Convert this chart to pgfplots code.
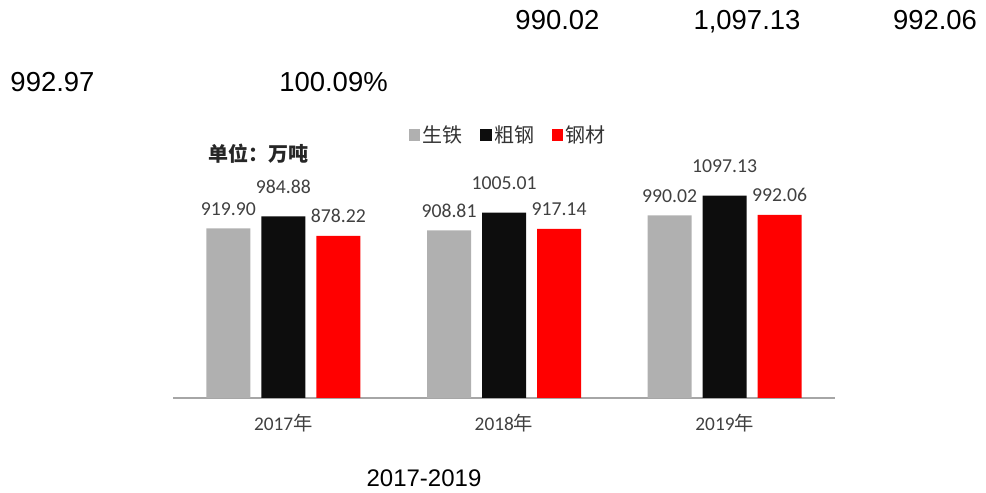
\documentclass[border=0pt]{standalone}
\usepackage{fontspec}
\setmainfont{Liberation Sans}
\newfontfamily\cjk{Noto Sans CJK SC}
\newfontfamily\carl{Carlito}
\usepackage{pgfplots}
\pgfplotsset{compat=1.18}
\definecolor{cgray}{HTML}{B0B0B0}
\definecolor{cblack}{HTML}{0D0D0D}
\definecolor{cred}{HTML}{FF0000}
\definecolor{ctext}{HTML}{404040}
\definecolor{caxis}{HTML}{A6A6A6}
\pgfplotsset{
  sqlegend/.style={legend image code/.code={\fill[##1] (0pt,-4.3pt) rectangle (8.6pt,4.3pt);}}
}
\begin{document}
\begin{tikzpicture}[x=0.75pt,y=0.75pt]
\useasboundingbox (0,0) rectangle (986,493);
\begin{axis}[
  at={(129.75pt,71.25pt)}, anchor=south west,
  scale only axis, width=496.5pt, height=223.5pt,
  xmin=-0.5, xmax=2.5, ymin=0, ymax=1615,
  axis y line=none, axis x line*=bottom,
  x axis line style={draw=caxis, line width=0.9pt, -},
  xtick={0,1,2},
  xticklabels={{\carl 2017}{\cjk 年},{\carl 2018}{\cjk 年},{\carl 2019}{\cjk 年}},
  major tick length=0pt,
  xticklabel style={anchor=base, yshift=-24.75pt, font=\fontsize{14.5}{16}\selectfont, text=ctext},
  ybar, bar width=33pt, clip=false,
  point meta=explicit symbolic, nodes near coords,
  nodes near coords style={font=\carl\fontsize{14.8}{16}\selectfont, text=ctext, anchor=base},
  sqlegend,
  legend columns=3,
  legend style={draw=none, fill=none, at={(0.5068,0.882)}, anchor=center,
    font=\cjk\fontsize{15}{17}\selectfont, text=black!80,
    /tikz/every even column/.append style={column sep=11pt}},
]
\addplot[fill=cgray, draw=none, bar shift=-41.25pt, every node near coord/.append style={yshift=9.75pt}]
  coordinates {(0,919.90)[919.90] (1,908.81)[908.81] (2,990.02)[990.02]};
\addplot[fill=cblack, draw=none, bar shift=0pt, every node near coord/.append style={yshift=17.25pt}]
  coordinates {(0,984.88)[984.88] (1,1005.01)[1005.01] (2,1097.13)[1097.13]};
\addplot[fill=cred, draw=none, bar shift=41.25pt, every node near coord/.append style={yshift=10pt}]
  coordinates {(0,878.22)[878.22] (1,917.14)[917.14] (2,992.06)[992.06]};
\legend{生铁,粗钢,钢材}
\end{axis}
\node[anchor=west, inner sep=0pt, font=\cjk\bfseries\fontsize{15}{17}\selectfont, text=black!85] at (208,339) {单位：万吨};
\begin{scope}[every node/.style={anchor=base, inner sep=0pt, font=\fontsize{20.6}{24}\selectfont}]
\node at (557.5,463.7) {990.02};
\node at (747,463.7) {1,097.13};
\node at (935,463.7) {992.06};
\node at (52.5,401.3) {992.97};
\node at (333.5,401.3) {100.09\%};
\node[font=\fontsize{18}{21}\selectfont] at (424,7) {2017-2019};
\end{scope}
\end{tikzpicture}
\end{document}
